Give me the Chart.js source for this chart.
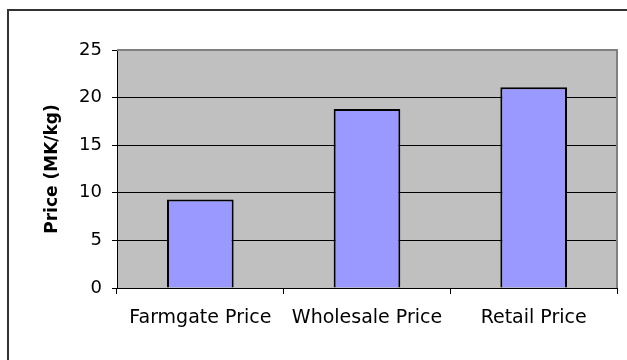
<!DOCTYPE html>
<html>
<head>
<meta charset="utf-8">
<script src="https://cdn.jsdelivr.net/npm/chart.js@4/dist/chart.umd.min.js"></script>
<style>
  html, body { margin: 0; padding: 0; background: #fff; }
  canvas { display: block; }
</style>
</head>
<body>
<canvas id="chart" width="627" height="360"></canvas>
<script>
const categories = ['Farmgate Price', 'Wholesale Price', 'Retail Price'];
const prices = [9.3, 18.8, 21.1];
const yMin = 0;
const yMax = 25;
const yStep = 5;
const yTitle = 'Price (MK/kg)';

// wide sans face, the original lettering is a stretched Arial
const fontFamily = '"DejaVu Sans", "Liberation Sans", Arial, sans-serif';

// grey plot area plus the frame round the whole picture
const frame = {
  id: 'frame',
  beforeDraw(chart) {
    const { ctx, chartArea: a } = chart;
    ctx.save();
    ctx.fillStyle = '#fff';
    ctx.fillRect(0, 0, chart.width, chart.height);
    ctx.strokeStyle = '#333';
    ctx.lineWidth = 2;
    ctx.strokeRect(8, 10, chart.width + 20, chart.height + 20);
    ctx.fillStyle = '#c0c0c0';
    ctx.fillRect(a.left, a.top, a.right - a.left, a.bottom - a.top);
    ctx.restore();
  },
  afterDraw(chart) {
    const { ctx, chartArea: a } = chart;
    ctx.save();
    ctx.strokeStyle = '#808080';
    ctx.lineWidth = 2;
    ctx.beginPath();
    ctx.moveTo(a.left, a.top);
    ctx.lineTo(a.right, a.top);
    ctx.lineTo(a.right, a.bottom);
    ctx.stroke();
    ctx.restore();
  }
};

new Chart(document.getElementById('chart'), {
  type: 'bar',
  data: {
    labels: categories,
    datasets: [{
      data: prices,
      backgroundColor: '#9999ff',
      borderColor: '#000',
      borderWidth: 2,
      categoryPercentage: 1,
      barPercentage: 0.4
    }]
  },
  options: {
    responsive: false,
    animation: false,
    layout: { padding: { top: 50, right: 10, left: 0, bottom: 0 } },
    plugins: {
      legend: { display: false },
      tooltip: { enabled: false }
    },
    scales: {
      x: {
        afterFit: (scale) => { scale.height = 72; },
        grid: {
          offset: true,
          drawOnChartArea: false,
          tickLength: 6,
          color: '#000'
        },
        border: { color: '#000', width: 1 },
        ticks: {
          color: '#000',
          padding: 13,
          maxRotation: 0,
          font: { family: fontFamily, size: 19 }
        }
      },
      y: {
        min: yMin,
        max: yMax,
        afterFit: (scale) => { scale.width = 117; },
        grid: {
          color: '#000',
          lineWidth: 1,
          tickLength: 5
        },
        border: { color: '#000', width: 1 },
        ticks: {
          stepSize: yStep,
          color: '#000',
          padding: 10,
          font: { family: fontFamily, size: 18 }
        },
        title: {
          display: true,
          text: yTitle,
          color: '#000',
          padding: { top: 42, bottom: 0 },
          font: { family: fontFamily, size: 17, weight: 'bold' }
        }
      }
    }
  },
  plugins: [frame]
});
</script>
</body>
</html>
